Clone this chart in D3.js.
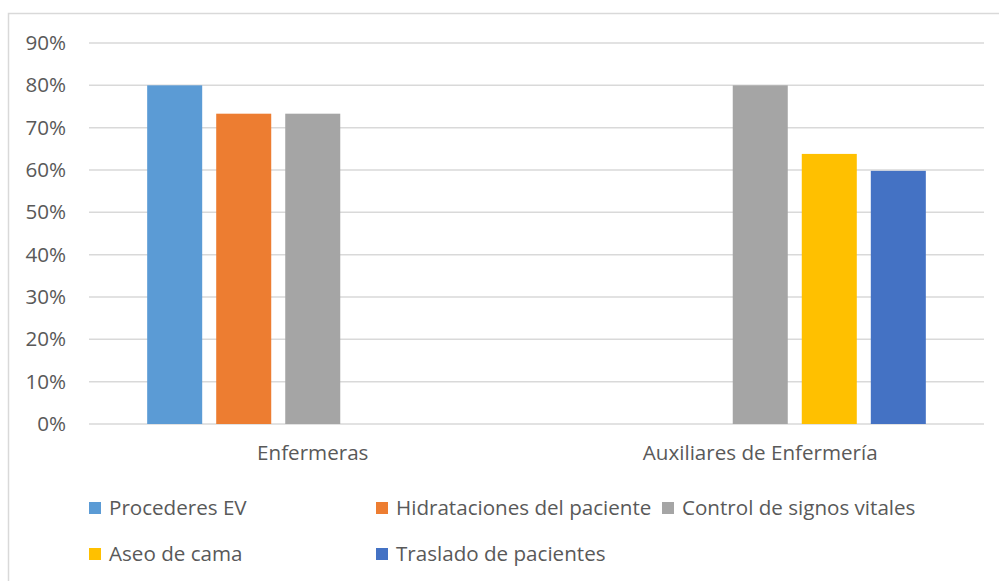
<!DOCTYPE html>
<html>
<head>
<meta charset="utf-8">
<script src="https://cdn.jsdelivr.net/npm/d3@7"></script>
<style>
  body { margin: 0; background: #fff; }
  svg { display: block; font-family: "Open Sans", sans-serif; }
</style>
</head>
<body>
<div id="chart"></div>
<script>
// data
let groups = ["Enfermeras", "Auxiliares de Enfermería"];
let series = ["Procederes EV", "Hidrataciones del paciente", "Control de signos vitales", "Aseo de cama", "Traslado de pacientes"];
let colors = ["#5B9BD5", "#ED7D31", "#A5A5A5", "#FFC000", "#4472C4"];
// one array per series, values for [Enfermeras, Auxiliares]; null = no bar
let procederes = [0.80, null];
let hidrataciones = [0.733, null];
let controlSignos = [0.733, 0.80];
let aseoCama = [null, 0.638];
let traslado = [null, 0.598];
let yTicks = [0, 0.1, 0.2, 0.3, 0.4, 0.5, 0.6, 0.7, 0.8, 0.9];

let values = [procederes, hidrataciones, controlSignos, aseoCama, traslado];

let width = 999, height = 581;
let plotLeft = 89, plotRight = 984, plotTop = 43, plotBottom = 424;
let textColor = "#595959";
let gridColor = "#d9d9d9";
let fontSize = "20.6px";

let svg = d3.select("#chart").append("svg")
    .attr("width", width)
    .attr("height", height);

// chart border
svg.append("rect")
    .attr("x", 8.5).attr("y", 13.5)
    .attr("width", 1000).attr("height", 600)
    .attr("fill", "none")
    .attr("stroke", gridColor)
    .attr("stroke-width", 1.5);

// scales
let y = d3.scaleLinear().domain([0, 0.9]).range([plotBottom, plotTop]);
let x0 = d3.scaleBand().domain(groups).range([plotLeft, plotRight])
    .paddingInner(0.26).paddingOuter(0.13);
let x1 = d3.scaleBand().domain(series).range([0, x0.bandwidth()])
    .paddingInner(0.203).paddingOuter(0);
let color = d3.scaleOrdinal().domain(series).range(colors);

// gridlines
svg.append("g")
    .selectAll("line")
    .data(yTicks)
    .join("line")
    .attr("x1", plotLeft).attr("x2", plotRight)
    .attr("y1", d => y(d)).attr("y2", d => y(d))
    .attr("stroke", gridColor)
    .attr("stroke-width", 1.5);

// y axis labels
let yAxis = svg.append("g")
    .attr("transform", `translate(${plotLeft - 4},0)`)
    .call(d3.axisLeft(y).tickValues(yTicks).tickFormat(d3.format(".0%")).tickSize(0).tickPadding(19));
yAxis.select(".domain").remove();
yAxis.selectAll("text")
    .attr("fill", textColor)
    .style("font-size", fontSize)
    .style("font-family", "'Open Sans', sans-serif");

// bars
let barData = [];
groups.forEach((g, gi) => {
    series.forEach((s, si) => {
        let v = values[si][gi];
        if (v !== null) barData.push({ group: g, series: s, value: v });
    });
});

svg.append("g")
    .selectAll("rect")
    .data(barData)
    .join("rect")
    .attr("x", d => x0(d.group) + x1(d.series))
    .attr("y", d => y(d.value))
    .attr("width", x1.bandwidth())
    .attr("height", d => y(0) - y(d.value))
    .attr("fill", d => color(d.series));

// category labels
let xAxis = svg.append("g")
    .attr("transform", `translate(0,${plotBottom})`)
    .call(d3.axisBottom(x0).tickSize(0).tickPadding(21));
xAxis.select(".domain").remove();
xAxis.selectAll("text")
    .attr("fill", textColor)
    .style("font-size", fontSize)
    .style("font-family", "'Open Sans', sans-serif");

// legend
let legendPos = [
    { x: 89, y: 508 }, { x: 376, y: 508 }, { x: 662, y: 508 },
    { x: 89, y: 554 }, { x: 376, y: 554 }
];
let legend = svg.append("g")
    .selectAll("g")
    .data(series)
    .join("g")
    .attr("transform", (d, i) => `translate(${legendPos[i].x},${legendPos[i].y})`);

legend.append("rect")
    .attr("x", 0).attr("y", -6)
    .attr("width", 12).attr("height", 12)
    .attr("fill", d => color(d));

legend.append("text")
    .attr("x", 20)
    .attr("y", 0)
    .attr("dy", "0.35em")
    .attr("fill", textColor)
    .style("font-size", fontSize)
    .text(d => d);
</script>
</body>
</html>
